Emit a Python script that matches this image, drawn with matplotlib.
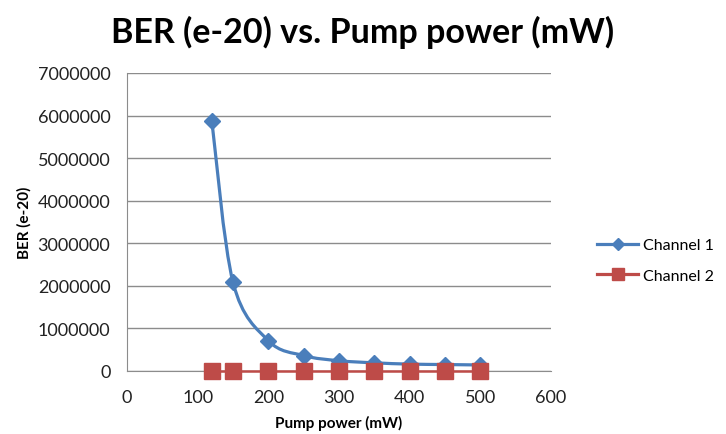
import matplotlib.pyplot as plt
from matplotlib.path import Path
from matplotlib.patches import PathPatch
from matplotlib.lines import Line2D
import numpy as np

pump_power = [120, 150, 200, 250, 300, 350, 400, 450, 500]
channel1 = [5870000, 2080000, 710000, 360000, 240000, 190000, 160000, 150000, 140000]
channel2 = [0, 0, 0, 0, 0, 0, 0, 0, 0]

blue = '#4A7EBB'
red = '#BE4B48'
grid_col = '#8C8C8C'

plt.rcParams['font.family'] = ['Lato', 'DejaVu Sans']


def smooth_path(x, y):
    # Catmull-Rom style cubic bezier through the points (like Excel's smoothed line)
    pts = np.column_stack([x, y]).astype(float)
    verts = [pts[0]]
    codes = [Path.MOVETO]
    n = len(pts)
    for i in range(n - 1):
        p0 = pts[i - 1] if i > 0 else pts[i]
        p1 = pts[i]
        p2 = pts[i + 1]
        p3 = pts[i + 2] if i + 2 < n else pts[i + 1]
        c1 = p1 + (p2 - p0) / 6.0
        c2 = p2 - (p3 - p1) / 6.0
        verts += [c1, c2, p2]
        codes += [Path.CURVE4] * 3
    return Path(verts, codes)


fig = plt.figure(figsize=(7.26, 4.35), dpi=100)
ax = fig.add_axes([0.175, 0.145, 0.584, 0.685])

# channel 1: smoothed curve with diamond markers
ax.add_patch(PathPatch(smooth_path(pump_power, channel1), fill=False,
                       edgecolor=blue, lw=2.3, zorder=3))
ax.plot(pump_power, channel1, ls='none', marker='D', ms=8, color=blue, zorder=4)
ax.plot(pump_power, channel2, color=red, lw=1.8, marker='s', ms=11, zorder=5,
        clip_on=False)

ax.set_xlim(0, 600)
ax.set_ylim(0, 7000000)
ax.set_xticks(range(0, 601, 100))
ax.set_yticks(range(0, 7000001, 1000000))
ax.set_yticklabels([str(v) for v in range(0, 7000001, 1000000)])
ax.tick_params(labelsize=13, colors='#222222', length=0)
ax.tick_params(axis='y', pad=12)
ax.tick_params(axis='x', pad=13)
ax.yaxis.grid(True, color=grid_col, lw=1)
ax.set_axisbelow(True)
for s in ['top', 'right']:
    ax.spines[s].set_visible(False)
for s in ['left', 'bottom']:
    ax.spines[s].set_color(grid_col)

ax.set_xlabel('Pump power (mW)', fontsize=11, fontweight='bold', labelpad=7)
ax.set_ylabel('BER (e-20)', fontsize=11, fontweight='bold', labelpad=4)
fig.text(0.5, 0.926, 'BER (e-20) vs. Pump power (mW)', fontsize=24.5,
         fontweight='bold', ha='center', va='center')

h1 = Line2D([], [], color=blue, lw=2.3, marker='D', ms=6)
h2 = Line2D([], [], color=red, lw=2.3, marker='s', ms=8)
fig.legend([h1, h2], ['Channel 1', 'Channel 2'], loc='center left',
           bbox_to_anchor=(0.822, 0.399), frameon=False, fontsize=11.5,
           borderpad=0, borderaxespad=0,
           handlelength=2.6, handletextpad=0.3, labelspacing=1.0)

fig.savefig('out.png', dpi=100)
